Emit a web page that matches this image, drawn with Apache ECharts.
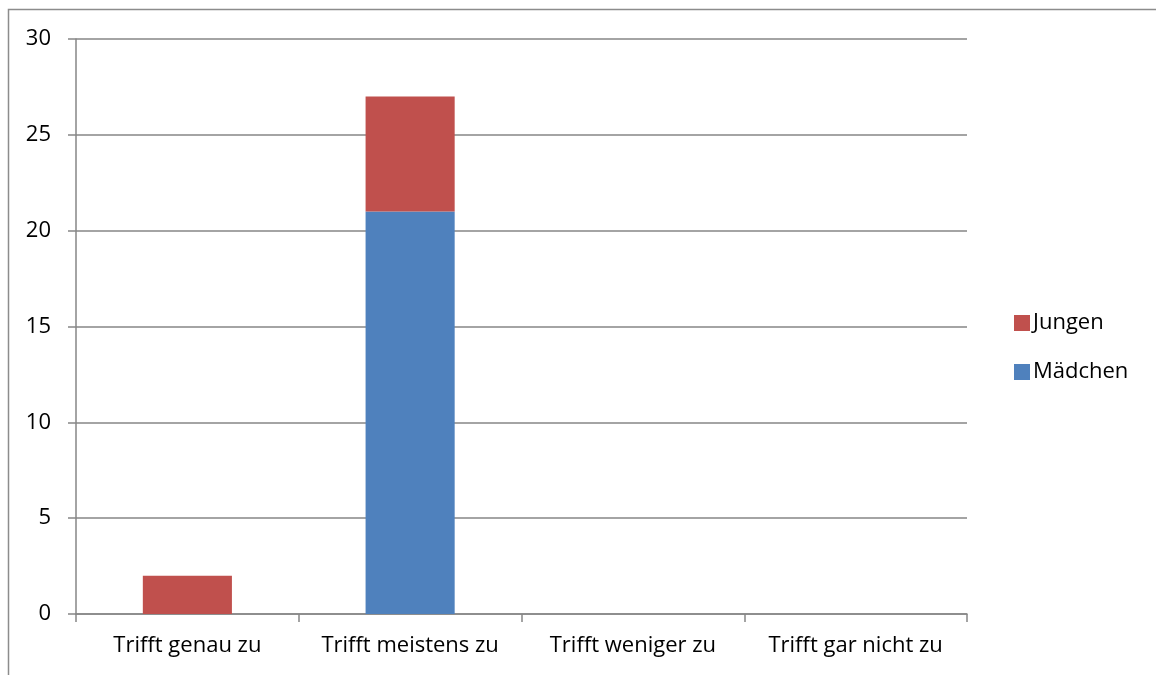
<!DOCTYPE html>
<html>
<head>
<meta charset="utf-8">
<script src="https://cdn.jsdelivr.net/npm/echarts@6/dist/echarts.min.js"></script>
<style>
  html, body { margin: 0; padding: 0; background: #fff; }
  #main { width: 1156px; height: 675px; }
</style>
</head>
<body>
<div id="main"></div>
<script>
var categories = ['Trifft genau zu', 'Trifft meistens zu', 'Trifft weniger zu', 'Trifft gar nicht zu'];
var maedchen = [0, 21, 0, 0];
var jungen = [2, 6, 0, 0];

var chart = echarts.init(document.getElementById('main'));
var font = '"Open Sans", sans-serif';

var option = {
  animation: false,
  graphic: [{
    type: 'rect',
    shape: { x: 8.5, y: 9.5, width: 1300, height: 800 },
    style: { fill: 'none', stroke: '#8c8c8c', lineWidth: 1.5 },
    silent: true
  }],
  grid: { left: 76, right: 189, top: 39, bottom: 61 },
  legend: {
    orient: 'vertical',
    left: 1009,
    top: 307,
    itemWidth: 16,
    itemHeight: 16,
    itemGap: 27,
    icon: 'rect',
    data: ['Jungen', 'Mädchen'],
    textStyle: { fontFamily: font, fontSize: 22, lineHeight: 16, color: '#000', padding: [0, 0, 0, -2] }
  },
  xAxis: {
    type: 'category',
    data: categories,
    axisLine: { lineStyle: { color: '#868686', width: 1.5 } },
    axisTick: { show: true, interval: 0, length: 8, alignWithLabel: false, lineStyle: { color: '#868686', width: 1.5 } },
    axisLabel: { interval: 0, fontFamily: font, fontSize: 22, color: '#000', margin: 21 }
  },
  yAxis: {
    type: 'value',
    min: 0,
    max: 30,
    interval: 5,
    axisLine: { show: true, lineStyle: { color: '#868686', width: 1.5 } },
    axisTick: { show: true, length: 8, lineStyle: { color: '#868686', width: 1.5 } },
    splitLine: { lineStyle: { color: '#868686', width: 1.5 } },
    axisLabel: { fontFamily: font, fontSize: 22, color: '#000', margin: 25 }
  },
  series: [{
    name: 'Mädchen',
    type: 'bar',
    stack: 'total',
    data: maedchen,
    barWidth: '40%',
    itemStyle: { color: '#4F81BD' }
  }, {
    name: 'Jungen',
    type: 'bar',
    stack: 'total',
    data: jungen,
    barWidth: '40%',
    itemStyle: { color: '#C0504D' }
  }]
};

chart.setOption(option);
</script>
</body>
</html>
